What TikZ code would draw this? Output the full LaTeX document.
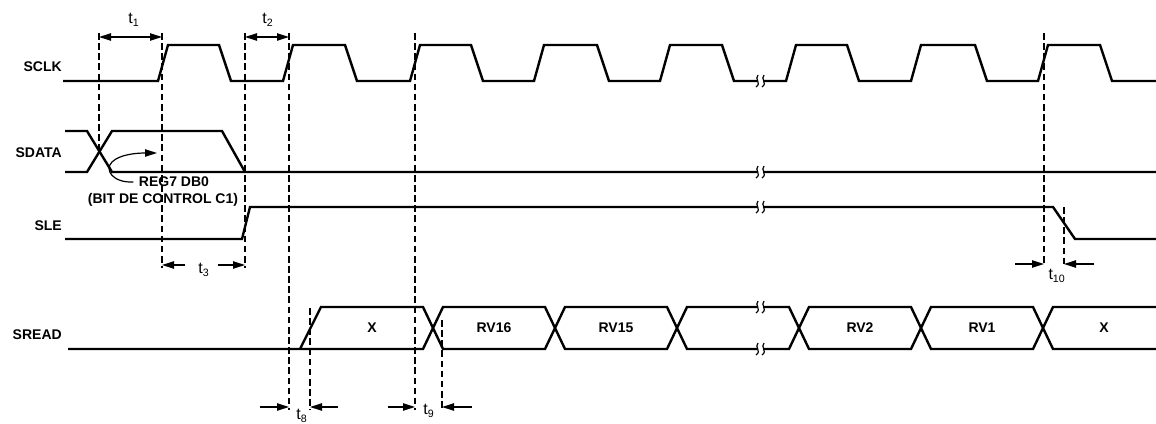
\documentclass[tikz,border=0pt]{standalone}
\usepackage{fontspec}
\setmainfont{Liberation Sans}
\usetikzlibrary{arrows.meta}
\newcommand{\tsub}[1]{t\textsubscript{#1}}
% two small squiggles where the time axis is cut
\newcommand{\sigbreak}[2]{%
  \fill[white] ({#1-3},{#2-3}) rectangle ({#1+3},{#2+3});
  \draw[brk] ({#1-2},{#2-6}) .. controls ({#1-6},{#2-2}) and ({#1+2},{#2+2}) .. ({#1-4},{#2+6});
  \draw[brk] ({#1+4},{#2-6}) .. controls ({#1},{#2-2}) and ({#1+8},{#2+2}) .. ({#1+2},{#2+6});}

\begin{document}
\begin{tikzpicture}[
  x=0.75pt,
  y=-0.75pt,
  every node/.style={font=\fontsize{10.5}{12}\selectfont, inner sep=0pt},
  signal/.style={line width=1.8pt, line join=miter},
  guide/.style={line width=0.9pt, dash pattern=on 5pt off 2.6pt},
  brk/.style={line width=0.9pt},
  timing/.style={line width=0.9pt, -{Triangle[length=9pt, width=5.5pt]}},
  span/.style={line width=0.9pt,
               {Triangle[length=9pt, width=5.5pt]}-{Triangle[length=9pt, width=5.5pt]}},
  signame/.style={font=\fontsize{10.5}{12}\selectfont\bfseries, anchor=east},
  field/.style={font=\fontsize{10.5}{12}\selectfont\bfseries},
  tlabel/.style={font=\fontsize{12}{14}\selectfont}
]
  \useasboundingbox (0,0) rectangle (1156,424);

  % ---- signal names -----------------------------------------------------
  \node[signame] (sclk)  at (62,67)  {SCLK};
  \node[signame] (sdata) at (62,153) {SDATA};
  \node[signame] (sle)   at (62,226) {SLE};
  \node[signame] (sread) at (62,335) {SREAD};

  % ---- SCLK -------------------------------------------------------------
  \draw[signal] (63,81)
    \foreach \r/\f in {158/219, 283/345, 410/471, 534/597, 660/722,
                       786/847, 911/975, 1038/1100}
      { -- (\r,81) -- ({\r+10},45) -- (\f,45) -- ({\f+12},81) }
    -- (1156,81);

  % ---- SDATA ------------------------------------------------------------
  \draw[signal] (65,131) -- (87,131) -- (112,172) -- (1156,172);
  \draw[signal] (65,172) -- (87,172) -- (112,131) -- (222,131) -- (245,172);

  % ---- SLE --------------------------------------------------------------
  \draw[signal] (65,239) -- (242,239) -- (250,207) -- (1053,207)
    -- (1075,239) -- (1156,239);

  % ---- SREAD ------------------------------------------------------------
  \draw[signal] (68,349) -- (423,349) -- (433,328) -- (423,307)
    -- (321,307) -- (300,349);
  \node[field] (xa) at (372,328) {X};
  \foreach \a/\b/\txt/\nm in {433/555/RV16/rv16, 555/677/RV15/rv15,
                              677/799/{}/rvk, 799/921/RV2/rv2, 921/1043/RV1/rv1}
  {
    \draw[signal] (\a,328) -- ({\a+10},307) -- ({\b-10},307) -- (\b,328)
      -- ({\b-10},349) -- ({\a+10},349) -- cycle;
    \node[field] (\nm) at ({(\a+\b)/2},328) {\txt};
  }
  \draw[signal] (1156,307) -- (1053,307) -- (1043,328) -- (1053,349) -- (1156,349);
  \node[field] (xb) at (1104,328) {X};

  % ---- cuts in the time axis --------------------------------------------
  \sigbreak{760}{81}
  \sigbreak{760}{172}
  \sigbreak{760}{207}
  \sigbreak{760}{307}
  \sigbreak{760}{349}

  % ---- guides -----------------------------------------------------------
  \draw[guide] (99,33)   -- (99,150);
  \draw[guide] (162,33)  -- (162,268);
  \draw[guide] (245,33)  -- (245,268);
  \draw[guide] (289,33)  -- (289,410);
  \draw[guide] (415,33)  -- (415,410);
  \draw[guide] (310,308) -- (310,410);
  \draw[guide] (442,320) -- (442,410);
  \draw[guide] (1044,33) -- (1044,266);
  \draw[guide] (1064,207) -- (1064,266);

  % ---- timing marks -----------------------------------------------------
  \draw[span] (99,37) -- (162,37);
  \node[tlabel] (t1) at (134,20) {\tsub{1}};
  \draw[span] (245,37) -- (289,37);
  \node[tlabel] (t2) at (268,20) {\tsub{2}};

  \draw[timing] (185,265) -- (162,265);
  \draw[timing] (218,265) -- (245,265);
  \node[tlabel] (t3) at (204,270) {\tsub{3}};

  \draw[timing] (260,407) -- (289,407);
  \draw[timing] (338,407) -- (310,407);
  \node[tlabel] (t8) at (302,416) {\tsub{8}};

  \draw[timing] (388,407) -- (415,407);
  \draw[timing] (472,407) -- (442,407);
  \node[tlabel] (t9) at (429,411) {\tsub{9}};

  \draw[timing] (1015,264) -- (1044,264);
  \draw[timing] (1094,264) -- (1064,264);
  \node[tlabel] (t10) at (1057,276) {\tsub{10}};

  % ---- the first bit ----------------------------------------------------
  \node[field] (reg) at (174,182) {REG7 DB0};
  \node[field] (bit) at (163,200) {(BIT DE CONTROL C1)};
  \draw[timing] ([xshift=-4pt]reg.west) .. controls (113,183) and (104,170) .. (112,162)
    .. controls (120,154) and (138,153) .. (157,153);

\end{tikzpicture}
\end{document}
